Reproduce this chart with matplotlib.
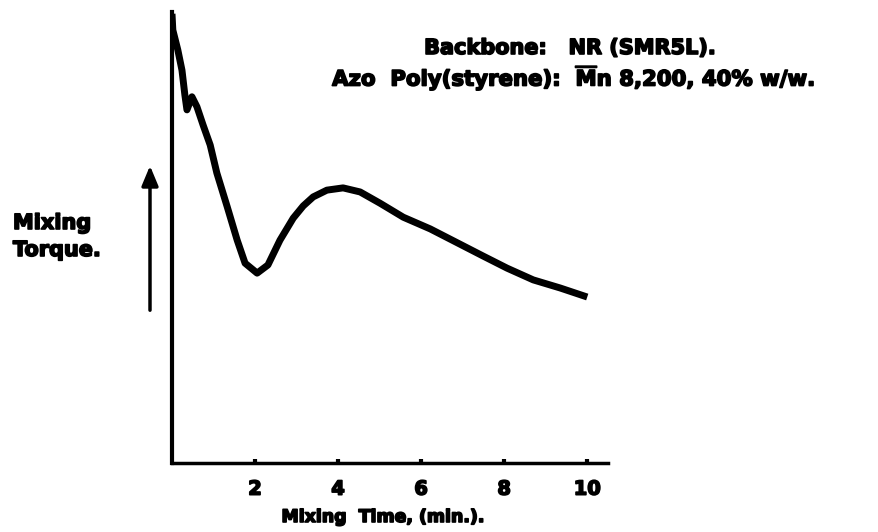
import matplotlib
matplotlib.use("Agg")
import matplotlib.pyplot as plt
import matplotlib.patheffects as pe
from matplotlib.patches import FancyArrowPatch

# data: mixing time (min) and relative torque (0-100)
time_min = [0.00, 0.02, 0.14, 0.24, 0.31, 0.36, 0.48, 0.60, 0.75, 0.92, 1.08, 1.33,
            1.57, 1.76, 2.05, 2.31, 2.60, 2.92, 3.16, 3.40, 3.73, 4.12, 4.53,
            5.01, 5.57, 6.22, 6.94, 7.49, 8.07, 8.70, 9.35, 10.00]
torque = [99.6, 96.0, 91.6, 87.1, 81.6, 78.3, 81.2, 79.0, 74.9, 70.5, 64.3, 56.8,
          49.4, 44.3, 42.1, 43.9, 49.4, 54.3, 57.0, 59.0, 60.5, 61.0, 60.1,
          57.6, 54.5, 51.9, 48.5, 45.9, 43.2, 40.6, 38.8, 36.8]
xticks = [2, 4, 6, 8, 10]

FONT = "DejaVu Sans"
plt.rcParams["mathtext.fontset"] = "custom"
plt.rcParams["mathtext.rm"] = "DejaVu Sans:bold"
plt.rcParams["mathtext.bf"] = "DejaVu Sans:bold"
heavy = [pe.withStroke(linewidth=1.2, foreground="black")]

fig = plt.figure(figsize=(8.79, 5.32), dpi=100)
ax = fig.add_axes([172 / 879, 69 / 532, 436 / 879, 451 / 532])

ax.plot(time_min, torque, color="black", lw=5, solid_capstyle="butt",
        solid_joinstyle="round")

ax.set_xlim(0, 10.5)
ax.set_ylim(0, 100)
for s in ("top", "right"):
    ax.spines[s].set_visible(False)
ax.spines["left"].set_linewidth(3.0)
ax.spines["bottom"].set_linewidth(2.5)
ax.set_yticks([])
ax.set_xticks(xticks)
ax.set_xticklabels([str(t) for t in xticks], fontfamily=FONT, fontweight="bold",
                   fontsize=14, path_effects=heavy)
ax.tick_params(axis="x", direction="in", length=3, width=3, pad=12)

fig.text(383 / 879, 1 - 517 / 532, "Mixing  Time, (min.).", ha="center", va="center",
         fontfamily=FONT, fontweight="bold", fontsize=12.5, path_effects=heavy)
fig.text(13 / 879, 1 - 229 / 532, "Mixing", ha="left", va="baseline",
         fontfamily=FONT, fontweight="bold", fontsize=15, path_effects=heavy)
fig.text(13 / 879, 1 - 256 / 532, "Torque.", ha="left", va="baseline",
         fontfamily=FONT, fontweight="bold", fontsize=15, path_effects=heavy)

# arrow
fig.add_artist(FancyArrowPatch(
    (150 / 879, 1 - 313 / 532), (150 / 879, 1 - 163 / 532),
    transform=fig.transFigure, arrowstyle="-|>,head_length=0.6,head_width=0.25",
    mutation_scale=20, lw=2.5, color="black"))

fig.text(716 / 879, 1 - 48 / 532, "Backbone:   NR (SMR5L).", ha="right", va="center",
         fontfamily=FONT, fontweight="bold", fontsize=15, path_effects=heavy)
fig.text(815 / 879, 1 - 77 / 532, r"Azo  Poly(styrene):  $\overline{\mathrm{M}}$n 8,200, 40% w/w.",
         ha="right", va="center", fontfamily=FONT, fontweight="bold",
         fontsize=15.3, path_effects=heavy)

fig.savefig("out.png", dpi=100)
